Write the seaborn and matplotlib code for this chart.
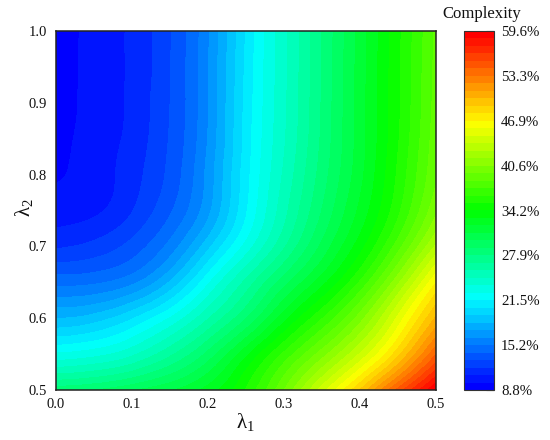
import numpy as np
import pandas as pd
import matplotlib
matplotlib.use("Agg")
import matplotlib.pyplot as plt
import matplotlib.tri as mtri
from matplotlib.colors import ListedColormap, BoundaryNorm
import seaborn as sns

sns.set_style("white")
plt.rcParams['font.family'] = ['Liberation Serif', 'DejaVu Serif']
plt.rcParams['mathtext.fontset'] = 'custom'
plt.rcParams['mathtext.rm'] = 'Liberation Serif'
plt.rcParams['mathtext.it'] = 'Liberation Serif'

lambda1 = [0.0, 0.05, 0.10, 0.15, 0.20, 0.25, 0.30, 0.35, 0.40, 0.45, 0.50]
row_100 = [9.1, 10.2, 11.1, 12.9, 16.0, 20.5, 24.3, 27.8, 31.4, 34.9, 38.6]
row_095 = [9.2, 10.2, 11.1, 12.95, 16.1, 20.6, 24.35, 27.85, 31.45, 35.0, 38.7]
row_090 = [9.3, 10.2, 11.15, 13.0, 16.1, 20.7, 24.4, 27.9, 31.5, 35.0, 38.8]
row_085 = [9.5, 10.25, 11.25, 13.1, 16.2, 20.8, 24.5, 28.0, 31.5, 35.1, 39.0]
row_080 = [9.75, 10.3, 11.5, 13.3, 16.5, 21.0, 24.8, 28.3, 31.7, 35.4, 39.3]
row_075 = [10.4, 10.7, 11.9, 13.9, 16.9, 21.3, 25.3, 28.9, 32.3, 36.0, 40.3]
row_070 = [11.8, 12.3, 13.4, 15.5, 19.0, 22.9, 26.6, 30.2, 33.7, 37.9, 42.8]
row_065 = [14.8, 14.95, 15.9, 18.4, 22.3, 26.0, 29.5, 32.7, 36.4, 41.3, 46.8]
row_060 = [18.3, 18.8, 20.3, 22.6, 25.6, 28.8, 32.7, 36.2, 40.0, 45.0, 50.2]
row_055 = [22.7, 23.2, 24.4, 26.5, 29.2, 32.8, 36.5, 40.0, 43.8, 48.6, 54.2]
row_050 = [28.5, 28.9, 29.8, 30.9, 32.5, 35.3, 39.4, 44.2, 49.0, 54.6, 59.6]
lambda2 = [0.50, 0.55, 0.60, 0.65, 0.70, 0.75, 0.80, 0.85, 0.90, 0.95, 1.00]
cbar_ticks = [8.8, 15.15, 21.5, 27.85, 34.2, 40.55, 46.9, 53.25, 59.6]
cbar_labels = ["8.8%", "15.2%", "21.5%", "27.9%", "34.2%", "40.6%", "46.9%", "53.3%", "59.6%"]
band_count = 48

table = pd.DataFrame(
    [row_050, row_055, row_060, row_065, row_070, row_075,
     row_080, row_085, row_090, row_095, row_100],
    index=lambda2, columns=lambda1)

W, H = 550, 440
fig = plt.figure(figsize=(W / 100, H / 100), dpi=100)
ax = fig.add_axes([55.5 / W, (H - 390) / H, 380 / W, 359 / H])
cax = fig.add_axes([464 / W, (H - 390) / H, 30 / W, 359 / H])

levels = np.linspace(cbar_ticks[0], cbar_ticks[-1], band_count + 1)
colors = sns.blend_palette(["#0000ff", "#00ffff", "#00ff00", "#ffff00", "#ff0000"], n_colors=band_count)
cmap = ListedColormap(colors)
norm = BoundaryNorm(levels, cmap.N)

X, Y = np.meshgrid(table.columns.values, table.index.values)
tri = mtri.Triangulation(X.ravel(), Y.ravel())
refiner = mtri.UniformTriRefiner(tri)
tri_fine, z_fine = refiner.refine_field(table.values.ravel(), subdiv=3)
z_fine = np.clip(z_fine, levels[0] + 1e-6, levels[-1] - 1e-6)
cs = ax.tricontourf(tri_fine, z_fine, levels=levels, cmap=cmap, norm=norm)

ax.set_xlim(0, 0.5)
ax.set_ylim(0.5, 1.0)
ax.set_xticks([0, 0.1, 0.2, 0.3, 0.4, 0.5])
ax.set_yticks([0.5, 0.6, 0.7, 0.8, 0.9, 1.0])
ax.set_xticklabels(["0.0", "0.1", "0.2", "0.3", "0.4", "0.5"])
ax.set_yticklabels(["0.5", "0.6", "0.7", "0.8", "0.9", "1.0"])
ax.tick_params(length=0, labelsize=10.5, pad=6, colors="#111111")
for s in ax.spines.values():
    s.set_visible(True)
    s.set_linewidth(1.1)
    s.set_color("#222222")

fig.text(245 / W, 1 - 422 / H, r"$\lambda_1$", fontsize=15, ha="center", va="center", color="#111111")
fig.text(24 / W, 1 - 208 / H, r"$\lambda_2$", fontsize=15, ha="center", va="center", rotation=90, color="#111111")

cb = fig.colorbar(cs, cax=cax, ticks=cbar_ticks, spacing="proportional", drawedges=False)
cb.set_ticklabels(cbar_labels)
cb.ax.minorticks_off()
cb.ax.tick_params(which="major", direction="in", length=6, width=0.8, labelsize=10.7, pad=5, color="#333333", labelcolor="#111111", right=True, left=False)
cb.outline.set_linewidth(0.8)
cb.outline.set_edgecolor("#333333")
fig.text(482 / W, 1 - 14 / H, "Complexity", fontsize=12, ha="center", va="center", color="#111111")

fig.savefig("out.png", dpi=100)
